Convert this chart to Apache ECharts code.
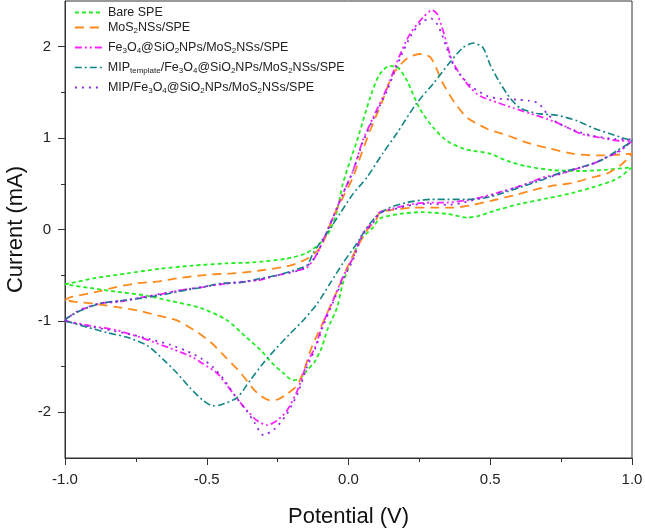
<!DOCTYPE html>
<html>
<head>
<meta charset="utf-8">
<script src="https://cdn.jsdelivr.net/npm/echarts@6/dist/echarts.min.js"></script>
<style>
  html, body { margin: 0; padding: 0; background: #fff; }
  #chart { width: 645px; height: 530px; }
</style>
</head>
<body>
<div id="chart"></div>
<script>
// ---- Data (Potential V, Current mA), CV loops: anodic sweep then cathodic sweep ----
const bareSPE = [
  [-1.0,-0.60],[-0.90,-0.535],[-0.78,-0.48],[-0.665,-0.43],[-0.55,-0.395],[-0.43,-0.37],[-0.34,-0.36],
  [-0.22,-0.32],[-0.15,-0.26],[-0.10,-0.15],[-0.065,-0.01],[-0.04,0.21],[-0.02,0.50],[0.012,0.81],
  [0.03,0.97],[0.076,1.44],[0.11,1.70],[0.146,1.79],[0.175,1.77],[0.206,1.63],[0.25,1.33],[0.30,1.11],
  [0.347,0.97],[0.40,0.89],[0.44,0.86],[0.50,0.83],[0.56,0.75],[0.63,0.69],[0.72,0.65],[0.82,0.64],
  [0.91,0.655],[1.0,0.68],
  [0.96,0.58],[0.93,0.53],[0.86,0.46],[0.79,0.40],[0.70,0.34],[0.605,0.28],[0.52,0.21],[0.46,0.15],
  [0.42,0.13],[0.35,0.17],[0.26,0.19],[0.18,0.17],[0.11,0.12],[0.086,0.02],[0.04,-0.12],[-0.02,-0.59],
  [-0.04,-0.85],[-0.075,-1.10],[-0.094,-1.29],[-0.12,-1.45],[-0.146,-1.54],[-0.17,-1.63],[-0.196,-1.65],
  [-0.23,-1.57],[-0.27,-1.46],[-0.31,-1.32],[-0.36,-1.18],[-0.43,-0.99],[-0.52,-0.86],[-0.63,-0.78],
  [-0.72,-0.72],[-0.82,-0.68],[-0.90,-0.645],[-1.0,-0.60]
];
const mos2SPE = [
  [-1.0,-0.77],[-0.98,-0.74],[-0.90,-0.69],[-0.82,-0.63],[-0.75,-0.59],[-0.675,-0.57],[-0.605,-0.535],
  [-0.50,-0.495],[-0.41,-0.48],[-0.34,-0.46],[-0.27,-0.43],[-0.20,-0.39],[-0.14,-0.31],[-0.10,-0.20],
  [-0.076,-0.04],[-0.055,0.13],[-0.02,0.35],[0.016,0.57],[0.034,0.73],[0.076,1.08],[0.12,1.41],
  [0.157,1.70],[0.206,1.87],[0.25,1.92],[0.29,1.88],[0.333,1.60],[0.376,1.38],[0.42,1.22],[0.49,1.10],
  [0.56,1.03],[0.63,0.95],[0.71,0.885],[0.79,0.83],[0.877,0.81],[0.958,0.82],[1.0,0.83],
  [0.98,0.76],[0.958,0.70],[0.91,0.61],[0.86,0.57],[0.79,0.51],[0.72,0.48],[0.65,0.43],[0.58,0.37],
  [0.51,0.32],[0.44,0.27],[0.37,0.24],[0.30,0.24],[0.23,0.24],[0.146,0.21],[0.11,0.19],[0.10,0.12],
  [0.065,-0.01],[0.03,-0.20],[-0.005,-0.42],[-0.04,-0.67],[-0.076,-0.92],[-0.108,-1.14],[-0.13,-1.29],
  [-0.155,-1.52],[-0.18,-1.70],[-0.217,-1.80],[-0.25,-1.86],[-0.277,-1.87],[-0.31,-1.82],[-0.337,-1.74],
  [-0.38,-1.57],[-0.43,-1.41],[-0.48,-1.25],[-0.535,-1.12],[-0.605,-0.995],[-0.675,-0.94],[-0.745,-0.885],
  [-0.816,-0.85],[-0.90,-0.81],[-0.97,-0.79],[-1.0,-0.77]
];
const fe3o4SPE = [
  [-1.0,-1.0],[-0.993,-0.97],[-0.947,-0.885],[-0.877,-0.81],[-0.806,-0.79],[-0.725,-0.74],[-0.665,-0.71],
  [-0.584,-0.66],[-0.513,-0.63],[-0.43,-0.59],[-0.358,-0.57],[-0.31,-0.55],[-0.25,-0.50],[-0.196,-0.46],
  [-0.146,-0.415],[-0.11,-0.26],[-0.09,-0.12],[-0.055,0.13],[-0.02,0.39],[0.016,0.64],[0.05,0.97],
  [0.086,1.22],[0.136,1.55],[0.18,1.90],[0.217,2.14],[0.263,2.32],[0.295,2.40],[0.312,2.36],[0.33,2.21],
  [0.347,2.03],[0.365,1.85],[0.393,1.70],[0.43,1.55],[0.464,1.46],[0.524,1.39],[0.58,1.33],[0.64,1.27],
  [0.70,1.21],[0.757,1.14],[0.817,1.05],[0.887,1.005],[0.958,0.97],[1.0,0.97],
  [0.958,0.86],[0.91,0.79],[0.864,0.72],[0.81,0.67],[0.746,0.61],[0.686,0.57],[0.63,0.50],[0.58,0.45],
  [0.524,0.40],[0.464,0.35],[0.418,0.32],[0.347,0.295],[0.29,0.295],[0.228,0.28],[0.157,0.23],[0.11,0.19],
  [0.086,0.08],[0.05,-0.04],[0.016,-0.31],[-0.02,-0.52],[-0.055,-0.78],[-0.09,-1.03],[-0.118,-1.29],
  [-0.146,-1.46],[-0.18,-1.76],[-0.217,-1.98],[-0.252,-2.09],[-0.287,-2.14],[-0.323,-2.09],[-0.358,-1.98],
  [-0.38,-1.90],[-0.43,-1.70],[-0.464,-1.57],[-0.513,-1.47],[-0.548,-1.40],[-0.594,-1.34],[-0.654,-1.27],
  [-0.735,-1.18],[-0.82,-1.10],[-0.90,-1.06],[-1.0,-1.0]
];
const mipTemplate = [
  [-1.0,-1.0],[-0.993,-0.97],[-0.947,-0.89],[-0.877,-0.81],[-0.806,-0.78],[-0.725,-0.75],[-0.665,-0.72],
  [-0.584,-0.67],[-0.513,-0.63],[-0.453,-0.59],[-0.38,-0.58],[-0.31,-0.535],[-0.25,-0.50],[-0.196,-0.45],
  [-0.146,-0.39],[-0.125,-0.26],[-0.076,-0.04],[-0.03,0.175],[0.016,0.39],[0.065,0.57],[0.12,0.83],
  [0.17,1.05],[0.24,1.38],[0.30,1.60],[0.358,1.83],[0.404,1.99],[0.44,2.04],[0.474,1.99],[0.50,1.80],
  [0.535,1.60],[0.57,1.44],[0.605,1.33],[0.665,1.27],[0.735,1.25],[0.806,1.19],[0.864,1.11],[0.92,1.05],
  [0.98,0.99],[1.0,0.98],
  [0.946,0.86],[0.887,0.75],[0.817,0.68],[0.746,0.62],[0.676,0.535],[0.605,0.46],[0.545,0.40],[0.489,0.35],
  [0.43,0.33],[0.347,0.33],[0.29,0.33],[0.206,0.295],[0.146,0.24],[0.10,0.15],[0.065,0.02],[0.03,-0.15],
  [-0.02,-0.37],[-0.065,-0.59],[-0.11,-0.81],[-0.16,-0.995],[-0.206,-1.14],[-0.252,-1.29],[-0.30,-1.46],
  [-0.347,-1.65],[-0.393,-1.84],[-0.453,-1.92],[-0.478,-1.93],[-0.513,-1.87],[-0.56,-1.73],[-0.605,-1.57],
  [-0.654,-1.42],[-0.71,-1.27],[-0.78,-1.18],[-0.85,-1.13],[-0.92,-1.07],[-1.0,-1.0]
];
const mipSPE = [
  [-1.0,-1.0],[-0.96,-0.9],[-0.88,-0.81],[-0.8,-0.78],[-0.72,-0.74],[-0.64,-0.69],[-0.56,-0.65],
  [-0.48,-0.61],[-0.4,-0.58],[-0.32,-0.55],[-0.25,-0.5],[-0.19,-0.46],[-0.15,-0.41],[-0.115,-0.29],
  [-0.09,-0.12],[-0.055,0.13],[-0.02,0.39],[0.016,0.64],[0.05,0.95],[0.086,1.2],[0.136,1.52],[0.18,1.86],
  [0.22,2.12],[0.255,2.26],[0.29,2.31],[0.31,2.26],[0.33,2.13],[0.347,1.98],[0.37,1.8],[0.4,1.67],
  [0.44,1.55],[0.49,1.46],[0.535,1.43],[0.6,1.42],[0.635,1.41],[0.67,1.38],[0.7,1.27],[0.735,1.17],
  [0.8,1.08],[0.87,1.02],[0.94,0.99],[1.0,0.98],
  [0.96,0.87],[0.91,0.79],[0.86,0.72],[0.8,0.66],[0.74,0.6],[0.68,0.55],[0.62,0.49],[0.56,0.43],
  [0.5,0.37],[0.45,0.33],[0.4,0.29],[0.35,0.27],[0.29,0.28],[0.228,0.27],[0.157,0.22],[0.11,0.18],
  [0.086,0.07],[0.05,-0.06],[0.016,-0.33],[-0.02,-0.55],[-0.055,-0.8],[-0.09,-1.06],[-0.118,-1.31],
  [-0.146,-1.5],[-0.18,-1.8],[-0.22,-2.03],[-0.26,-2.18],[-0.3,-2.25],[-0.33,-2.12],[-0.36,-1.98],
  [-0.4,-1.82],[-0.44,-1.64],[-0.48,-1.5],[-0.52,-1.41],[-0.57,-1.33],[-0.63,-1.26],[-0.7,-1.2],
  [-0.78,-1.14],[-0.86,-1.09],[-0.93,-1.05],[-1.0,-1.0]
];

const seriesNames = [
  'Bare SPE',
  'MoS2NSs/SPE',
  'Fe3O4@SiO2NPs/MoS2NSs/SPE',
  'MIPtemplate/Fe3O4@SiO2NPs/MoS2NSs/SPE',
  'MIP/Fe3O4@SiO2NPs/MoS2NSs/SPE'
];
// rich-text legend labels (n = normal, s = subscript)
const legendLabels = [
  '{n|Bare SPE}',
  '{n|MoS}{s|2}{n|NSs/SPE}',
  '{n|Fe}{s|3}{n|O}{s|4}{n|@SiO}{s|2}{n|NPs/MoS}{s|2}{n|NSs/SPE}',
  '{n|MIP}{s|template}{n|/Fe}{s|3}{n|O}{s|4}{n|@SiO}{s|2}{n|NPs/MoS}{s|2}{n|NSs/SPE}',
  '{n|MIP/Fe}{s|3}{n|O}{s|4}{n|@SiO}{s|2}{n|NPs/MoS}{s|2}{n|NSs/SPE}'
];
const xTicks = [-1.0, -0.5, 0.0, 0.5, 1.0];
const yMajorTicks = [-2, -1, 0, 1, 2];
const yMinorTicks = [-1.5, -0.5, 0.5, 1.5];

const seriesData = [bareSPE, mos2SPE, fe3o4SPE, mipTemplate, mipSPE];
const colors = ['#22ee22', '#ff8a1c', '#ff22ff', '#128585', '#8a2be2'];
const dashes = [[4,3], [9,6], [7,3,2,3,2,3], [7,3,2,3], [2,5]];
const widths = [1.8, 1.8, 1.8, 1.6, 1.8];
const legendTops = [6, 21, 41, 61, 81];

const FONT = 'Liberation Sans, Arial, sans-serif';
const chart = echarts.init(document.getElementById('chart'), null, { renderer: 'canvas' });

const series = seriesNames.map((name, i) => ({
  name,
  type: 'line',
  data: seriesData[i],
  symbol: 'none',
  smooth: 0.25,
  clip: true,
  lineStyle: { color: colors[i], width: widths[i], type: dashes[i] },
  itemStyle: { color: colors[i] },
  z: 2
}));

const legends = seriesNames.map((name, i) => ({
  data: [name],
  left: 74,
  top: legendTops[i],
  orient: 'vertical',
  itemWidth: 28,
  itemHeight: 10,
  itemGap: 4,
  padding: 0,
  selectedMode: false,
  itemStyle: { opacity: 0 },
  lineStyle: { color: colors[i], width: widths[i], type: dashes[i], opacity: 1 },
  formatter: () => legendLabels[i],
  textStyle: {
    color: '#222',
    rich: {
      n: { fontSize: 12.5, fontFamily: FONT, color: '#222', lineHeight: 14 },
      s: { fontSize: 8, fontFamily: FONT, color: '#222', lineHeight: 8, verticalAlign: 'bottom', padding: [3, 0, 0, 0] }
    }
  }
}));

chart.setOption({
  animation: false,
  backgroundColor: '#fff',
  legend: legends,
  grid: {
    left: 65, right: 13, top: 1, bottom: 72, containLabel: false, outerBoundsMode: 'none',
    show: true, borderColor: '#333', borderWidth: 1, backgroundColor: 'transparent'
  },
  xAxis: {
    type: 'value', min: xTicks[0], max: xTicks[xTicks.length - 1], interval: 0.5,
    name: 'Potential (V)', nameLocation: 'middle', nameGap: 48,
    nameTextStyle: { fontSize: 22, fontFamily: FONT, color: '#111' },
    axisLine: { show: true, onZero: false, lineStyle: { color: '#333', width: 1 } },
    axisTick: { show: true, inside: false, length: 7, lineStyle: { color: '#333' } },
    minorTick: { show: true, splitNumber: 2, length: 4, lineStyle: { color: '#333' } },
    axisLabel: { fontSize: 15, fontFamily: FONT, color: '#222', margin: 14, formatter: v => v.toFixed(1) },
    splitLine: { show: false }
  },
  yAxis: [{
    type: 'value', min: -2.5, max: 2.5,
    name: 'Current (mA)', nameLocation: 'middle', nameGap: 31,
    nameTextStyle: { fontSize: 22, fontFamily: FONT, color: '#111' },
    axisLine: { show: true, onZero: false, lineStyle: { color: '#333', width: 1 } },
    axisTick: { show: true, inside: false, length: 7, customValues: yMajorTicks, lineStyle: { color: '#333' } },
    axisLabel: { fontSize: 15, fontFamily: FONT, color: '#222', margin: 14, customValues: yMajorTicks },
    splitLine: { show: false }
  }, {
    type: 'value', min: -2.5, max: 2.5, position: 'left',
    axisLine: { show: false, onZero: false },
    axisTick: { show: true, inside: false, length: 4, customValues: yMinorTicks, lineStyle: { color: '#333' } },
    axisLabel: { show: false },
    splitLine: { show: false }
  }],
  series
});
</script>
</body>
</html>
